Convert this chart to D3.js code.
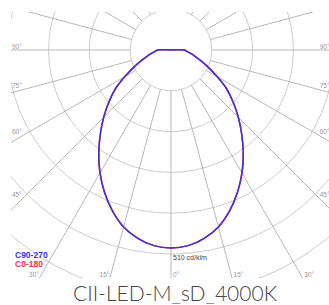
<!DOCTYPE html>
<html>
<head>
<meta charset="utf-8">
<script src="https://cdn.jsdelivr.net/npm/d3@7"></script>
<style>
  html, body { margin: 0; padding: 0; background: #fff; }
  svg { display: block; }
</style>
</head>
<body>
<svg id="chart" width="329" height="305"></svg>
<script>
// ---- data ----
const gammaAngles = [0,5,10,15,20,25,30,35,40,45,50,55,60,65,70,75,80,85,90];
const c0_180  = [495,491,478,458,428,393,355,315,275,238,203,170,133,103,80,63,50,40,33];
const c90_270 = [495,491,478,458,428,393,355,315,275,238,203,170,133,103,80,63,50,40,33];
const circleValues = [102,204,306,408,510,612,714];
const rayAngles = d3.range(0, 360, 15);
const labelAngles = [0,15,30,45,60,75,90];
const scaleLabel = "510 cd/klm";
const legendItems = ["C90-270", "C0-180"];
const title = "CII-LED-M_sD_4000K";

// ---- layout ----
const svg = d3.select("#chart");
const cx = 171, cy = 50;
const clip = {x0: 11, x1: 331, y0: 12, y1: 278};
const r = d3.scaleLinear().domain([0, 510]).range([0, 204]);
const rad = d => d * Math.PI / 180;

svg.append("rect").attr("width", 329).attr("height", 305).attr("fill", "#fff");

svg.append("clipPath").attr("id", "clip")
  .append("rect").attr("x", clip.x0).attr("y", clip.y0)
  .attr("width", clip.x1 - clip.x0).attr("height", clip.y1 - clip.y0);

const plot = svg.append("g").attr("clip-path", "url(#clip)");
const g = plot.append("g").attr("transform", `translate(${cx},${cy})`);

// circles
g.selectAll("circle.grid").data(circleValues).join("circle")
  .attr("class", "grid")
  .attr("r", d => r(d))
  .attr("fill", "none")
  .attr("stroke", "#cccccc")
  .attr("stroke-width", 1);

// rays (from first circle outward)
g.selectAll("line.ray").data(rayAngles).join("line")
  .attr("class", "ray")
  .attr("x1", d => r(circleValues[0]) * Math.sin(rad(d)))
  .attr("y1", d => r(circleValues[0]) * Math.cos(rad(d)))
  .attr("x2", d => r(1200) * Math.sin(rad(d)))
  .attr("y2", d => r(1200) * Math.cos(rad(d)))
  .attr("stroke", "#b0b0b0")
  .attr("stroke-width", 0.9);

// curves
function curvePoints(vals) {
  const pts = [];
  for (let i = gammaAngles.length - 1; i > 0; i--) pts.push({a: Math.PI + rad(gammaAngles[i]), v: vals[i]});
  for (let i = 0; i < gammaAngles.length; i++) pts.push({a: Math.PI - rad(gammaAngles[i]), v: vals[i]});
  pts.push({a: 0, v: 0}); // luminaire centre closes the curve
  return pts;
}
const line = d3.lineRadial().angle(d => d.a).radius(d => r(d.v)).curve(d3.curveCatmullRomClosed);
g.append("path").attr("d", line(curvePoints(c0_180)))
  .attr("fill", "none").attr("stroke", "#ff2a2a").attr("stroke-width", 1.5);
g.append("path").attr("d", line(curvePoints(c90_270)))
  .attr("fill", "none").attr("stroke", "#3b2ee8").attr("stroke-width", 1.5);

// angle labels
const labG = svg.append("g").attr("font-family", "Arial, 'Liberation Sans', sans-serif")
  .attr("font-size", 6.5).attr("fill", "#999");
labelAngles.forEach(a => {
  [-1, 1].forEach(s => {
    if (a === 0 && s === 1) return;
    const th = rad(a);
    const sin = Math.sin(th), cos = Math.cos(th);
    const tx = sin > 1e-6 ? (s < 0 ? (cx - clip.x0) : (clip.x1 - cx)) / sin : Infinity;
    const ty = cos > 1e-6 ? (clip.y1 - cy) / cos : Infinity;
    const txt = a + "°";
    if (tx < ty) {
      const t = (cx - 23) / sin;
      const y = cy + t * cos - 1.5;
      labG.append("text").text(txt)
        .attr("x", s < 0 ? 12 : 329.5)
        .attr("y", y)
        .attr("text-anchor", s < 0 ? "start" : "end");
    } else {
      const xr = cx + s * (clip.y1 - cy) * Math.tan(th);
      const isZero = a === 0;
      labG.append("text").text(txt)
        .attr("x", isZero ? xr + 2 : (s < 0 ? xr - 0.5 : xr + 1.5))
        .attr("y", 276.5)
        .attr("text-anchor", isZero || s > 0 ? "start" : "end");
    }
  });
});

// scale label
svg.append("text").text(scaleLabel)
  .attr("x", cx + 2).attr("y", cy + r(510) + 5.5)
  .attr("font-family", "Arial, 'Liberation Sans', sans-serif")
  .attr("font-size", 7).attr("fill", "#444");

// legend
const legColors = ["#3535ff", "#ff3535"];
svg.selectAll("text.leg").data(legendItems).join("text")
  .attr("class", "leg")
  .text(d => d)
  .attr("x", 15)
  .attr("y", (d, i) => 258 + i * 9)
  .attr("font-family", "Arial, 'Liberation Sans', sans-serif")
  .attr("font-weight", "bold")
  .attr("font-size", 8.5)
  .attr("fill", (d, i) => legColors[i]);

// title
svg.append("text").text(title)
  .attr("x", 175).attr("y", 300.5)
  .attr("text-anchor", "middle")
  .attr("font-family", "Lato, sans-serif")
  .attr("font-weight", 300)
  .attr("font-size", 21)
  .attr("fill", "#444");
</script>
</body>
</html>
